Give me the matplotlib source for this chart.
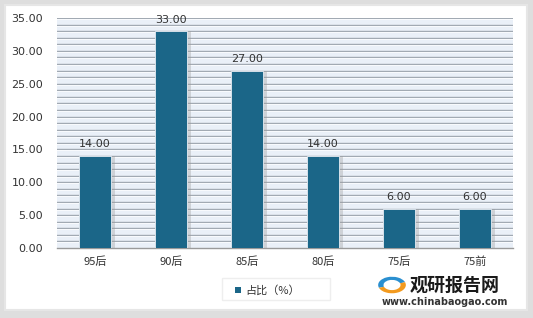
import numpy as np
import matplotlib
matplotlib.use("Agg")
from matplotlib import pyplot as plt
from matplotlib.patches import Rectangle, Wedge

plt.rcParams['font.family'] = ['DejaVu Sans', 'Noto Sans CJK SC']

categories = ["95后", "90后", "85后", "80后", "75后", "75前"]
values = [14.00, 33.00, 27.00, 14.00, 6.00, 6.00]
y_ticks = [0, 5, 10, 15, 20, 25, 30, 35]
legend_label = "占比（%）"

bar_color = "#1b6688"
cjk = ['Noto Sans CJK SC', 'DejaVu Sans']

fig = plt.figure(figsize=(5.33, 3.18), dpi=100)
fig.patch.set_facecolor("#dedede")
# white panel with soft frame
fig.patches.append(Rectangle((5/533, 8/318), 522/533, 305/318, transform=fig.transFigure,
                             facecolor="white", edgecolor="#e6e6e6", lw=1.5, zorder=-10))

ax = fig.add_axes([57/533, 1-248/318, 456/533, 230/318])
ax.set_zorder(1)
ax.set_facecolor("#eaf0f8")
x = np.arange(len(categories))

# horizontal stripes every unit
for yy in range(1, 36):
    ax.axhline(yy, color="#9ea6af", lw=1.0, zorder=1)
    ax.axhline(yy - 0.15, color="#f8fafd", lw=0.8, zorder=1)

# bar shadows then bars
ax.bar(x + 0.03, values, width=0.47, color="#9a9a9a", alpha=0.35, zorder=2)
ax.bar(x, values, width=0.42, color=bar_color, edgecolor="#e8eef5", lw=0.6, zorder=3)

for xi, v in zip(x, values):
    ax.text(xi, v + 1.0, f"{v:.2f}", ha="center", va="bottom", fontsize=8, color="#333333", zorder=4)

ax.set_xlim(-0.5, len(categories) - 0.5)
ax.set_ylim(0, 35)
ax.set_yticks(y_ticks)
ax.set_yticklabels([f"{t:.2f}" for t in y_ticks], fontsize=8, color="#333333")
ax.set_xticks(x)
ax.set_xticklabels(categories, fontsize=8, color="#333333", family=cjk)
ax.tick_params(length=0, pad=10, axis='y')
ax.tick_params(length=0, pad=6, axis='x')
for s in ["top", "right", "left"]:
    ax.spines[s].set_visible(False)
ax.spines["bottom"].set_color("#9a9a9a")
ax.spines["bottom"].set_linewidth(1.0)

# legend
fig.patches.append(Rectangle((222/533, 1-300/318), 108/533, 22/318, transform=fig.transFigure,
                             facecolor="white", edgecolor="#eeeeee", lw=1.0, zorder=5))
fig.patches.append(Rectangle((235/533, 1-293/318), 6/533, 6/318, transform=fig.transFigure,
                             facecolor=bar_color, edgecolor="none", zorder=6))
fig.text(245/533, 1-290/318, legend_label, fontsize=8, va="center", ha="left",
         family=cjk, color="#333333", zorder=6)

# watermark
fig.text(455/533, 1-285/318, "观研报告网", fontsize=13, fontweight="bold", va="center", ha="center",
         family=cjk, color="#1a1a1a")
fig.text(445/533, 1-302/318, "www.chinabaogao.com", fontsize=7, fontweight="bold", va="center",
         ha="center", color="#333333")
fig.patches.append(Wedge((392/533, 1-285/318), 0.026, 20, 200, width=0.010,
                         transform=fig.transFigure, facecolor="#2a8fd0"))
fig.patches.append(Wedge((392/533, 1-285/318), 0.026, 200, 380, width=0.010,
                         transform=fig.transFigure, facecolor="#f39a1e"))

fig.savefig("out.png", dpi=100, facecolor=fig.get_facecolor())
